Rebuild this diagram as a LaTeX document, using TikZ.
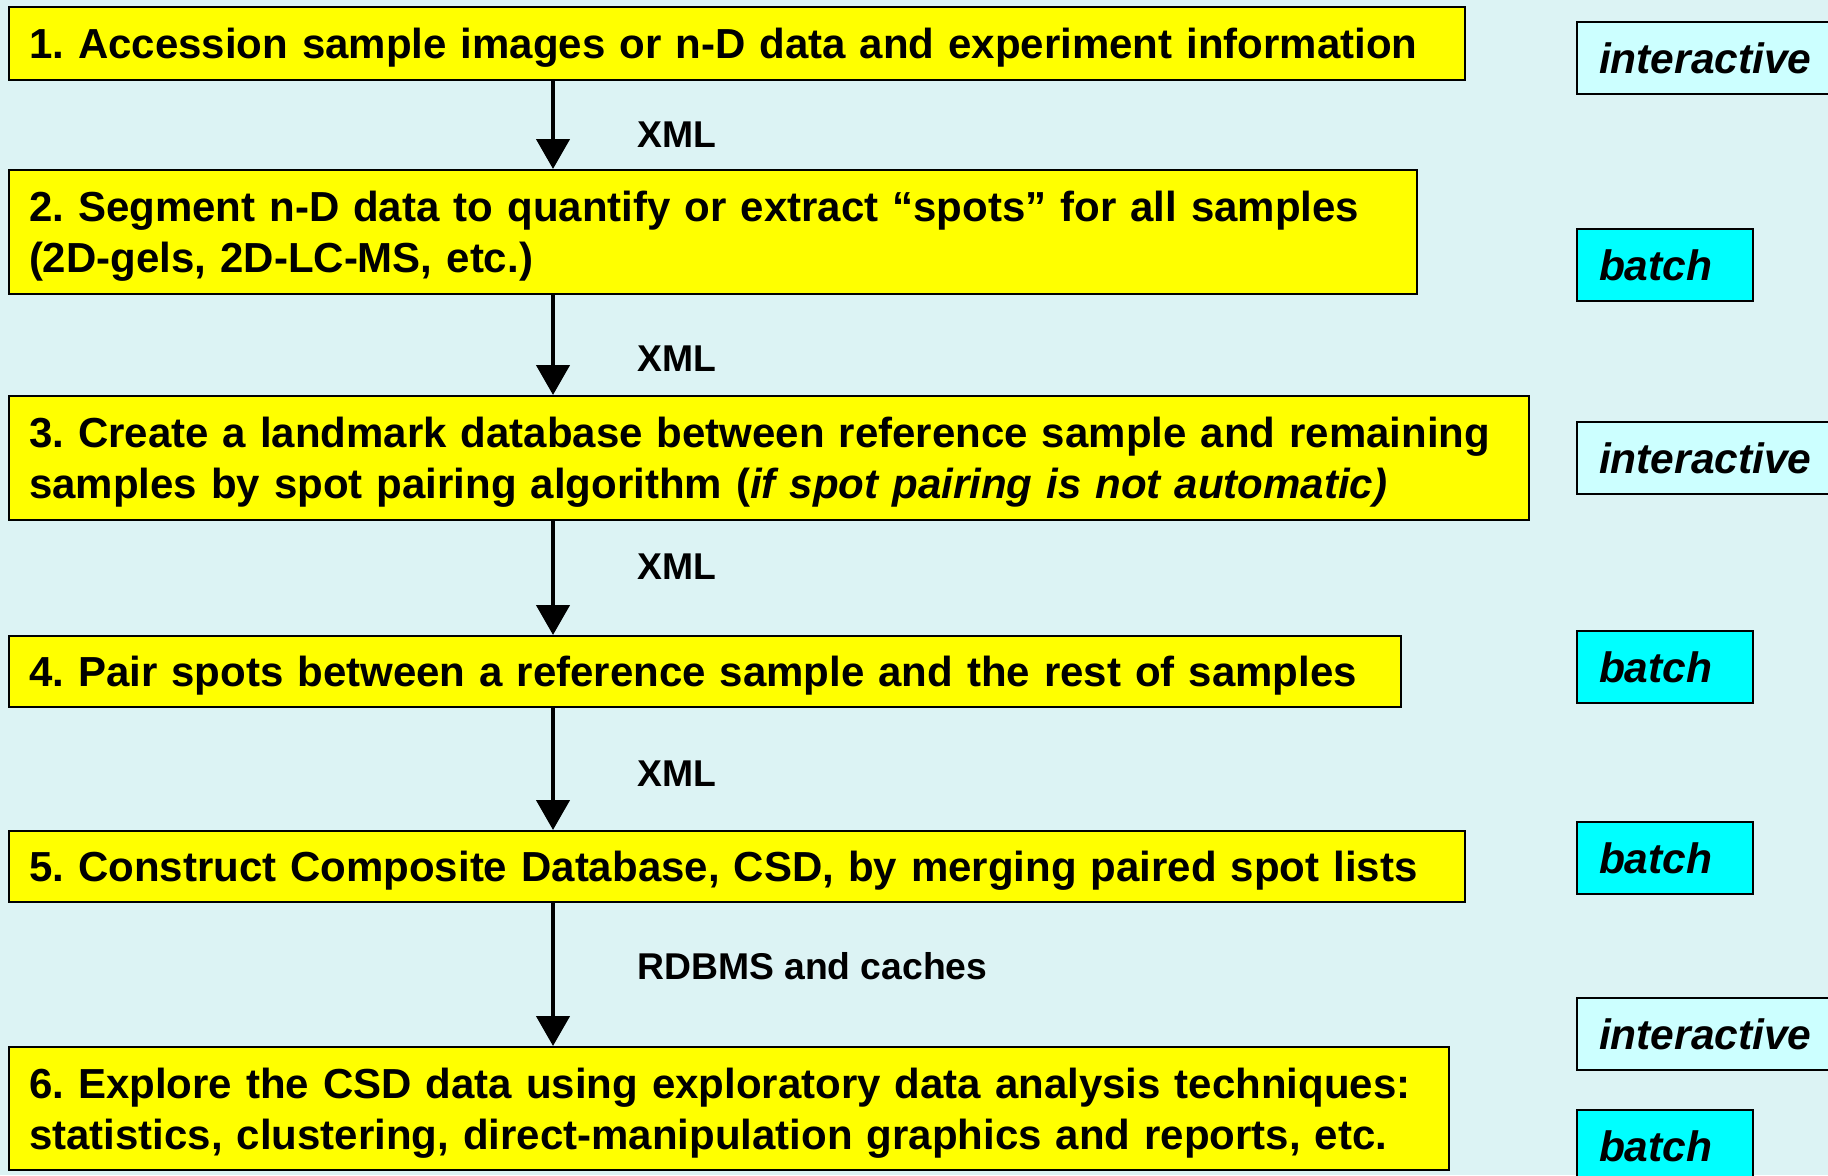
\documentclass[tikz,border=0pt]{standalone}
\usepackage{fontspec}
\setmainfont{Liberation Sans}
\usetikzlibrary{arrows.meta}
\definecolor{bgcol}{HTML}{DCF3F4}
\definecolor{stageyellow}{HTML}{FFFF00}
\definecolor{interfill}{HTML}{CCFFFF}
\definecolor{batchfill}{HTML}{00FFFF}
\frenchspacing
\begin{document}
\begin{tikzpicture}[x=1pt,y=-1pt,
  stagebase/.style={draw=black, line width=2pt, fill=stageyellow, anchor=north west,
    inner xsep=20pt, inner ysep=0pt, align=left,
    font=\fontsize{42}{51}\selectfont\bfseries},
  stage/.style={stagebase, text depth=0pt},
  stagetwo/.style={stagebase, text depth=51pt},
  modebox/.style={draw=black, line width=2pt, anchor=north west,
    inner xsep=22pt, inner ysep=0pt, align=left, minimum height=72pt,
    font=\fontsize{42.5}{50}\selectfont\bfseries\itshape},
  interbox/.style={modebox, fill=interfill, text width=236pt},
  batchbox/.style={modebox, fill=batchfill, text width=132pt},
  flowlabel/.style={anchor=west, inner sep=0pt, font=\fontsize{37.3}{44}\selectfont\bfseries},
  flow/.style={line width=4.5pt, -{Triangle[width=33pt,length=30pt]}}
]
% canvas
\fill[bgcol] (0,0) rectangle (1828,1175);
\useasboundingbox (0,0) rectangle (1828,1175);
\clip (0,0) rectangle (1828,1175);

% pipeline stages
\node[stage, text width=1416pt, minimum height=73pt] (b1) at (8,6)
  {\mbox{1. Accession sample images or n-D data and experiment information}};
\node[stagetwo, text width=1368pt, minimum height=124pt] (b2) at (8,169)
  {\mbox{2. Segment n-D data to quantify or extract “spots” for all samples}\\
   \mbox{(2D-gels, 2D-LC-MS, etc.)}};
\node[stagetwo, text width=1480pt, minimum height=124pt] (b3) at (8,395)
  {\mbox{3. Create a landmark database between reference sample and remaining}\\
   \mbox{samples by spot pairing algorithm (\textit{if spot pairing is not automatic)}}};
\node[stage, text width=1352pt, minimum height=71pt] (b4) at (8,635)
  {\mbox{4. Pair spots between a reference sample and the rest of samples}};
\node[stage, text width=1416pt, minimum height=71pt] (b5) at (8,830)
  {\mbox{5. Construct Composite Database, CSD, by merging paired spot lists}};
\node[stagetwo, text width=1400pt, minimum height=123pt] (b6) at (8,1046)
  {\mbox{6. Explore the CSD data using exploratory data analysis techniques:}\\
   \mbox{statistics, clustering, direct-manipulation graphics and reports, etc.}};

% processing modes
\node[interbox] (m1) at (1576,21) {interactive};
\node[batchbox] (m2) at (1576,228) {batch};
\node[interbox] (m3) at (1576,421) {interactive};
\node[batchbox] (m4) at (1576,630) {batch};
\node[batchbox] (m5) at (1576,821) {batch};
\node[interbox] (m6) at (1576,997) {interactive};
\node[batchbox] (m7) at (1576,1109) {batch};

% data flow between stages
\coordinate (ax) at (553,0);
\draw[flow] (b1.south -| ax) -- (b2.north -| ax);
\draw[flow] (b2.south -| ax) -- (b3.north -| ax);
\draw[flow] (b3.south -| ax) -- (b4.north -| ax);
\draw[flow] (b4.south -| ax) -- (b5.north -| ax);
\draw[flow] (b5.south -| ax) -- (b6.north -| ax);

\node[flowlabel] (l1) at (637,135) {XML};
\node[flowlabel] (l2) at (637,359) {XML};
\node[flowlabel] (l3) at (637,567) {XML};
\node[flowlabel] (l4) at (637,774) {XML};
\node[flowlabel] (l5) at (637,966) {RDBMS and caches};
\end{tikzpicture}
\end{document}
